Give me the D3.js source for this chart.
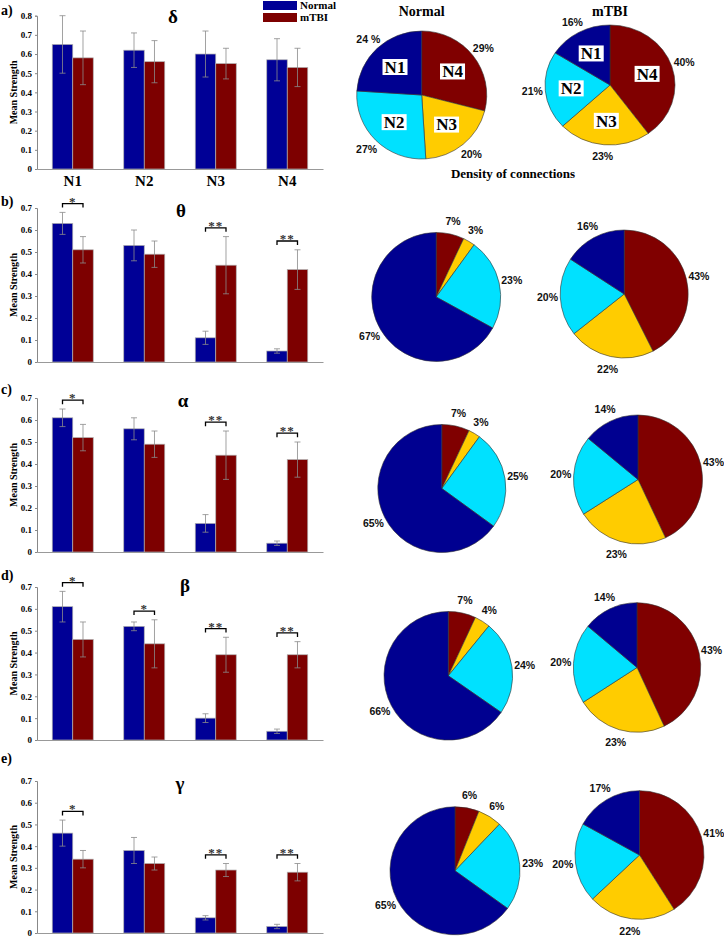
<!DOCTYPE html>
<html><head><meta charset="utf-8">
<script src="https://cdn.jsdelivr.net/npm/d3@7"></script>
<style>body{margin:0;background:#fff}svg{display:block}</style>
</head><body>
<svg id="chart" width="724" height="938"></svg>
<script>
// ---------- DATA ----------
const categories = ["N1", "N2", "N3", "N4"];
const groups = ["Normal", "mTBI"];
const bandNames = ["δ", "θ", "α", "β", "γ"];
const panelLetters = ["a)", "b)", "c)", "d)", "e)"];
const normalMean = [
  [0.65, 0.62, 0.60, 0.57],
  [0.63, 0.53, 0.11, 0.05],
  [0.61, 0.56, 0.13, 0.04],
  [0.61, 0.52, 0.10, 0.04],
  [0.46, 0.38, 0.07, 0.03]
];
const normalErr = [
  [0.15, 0.09, 0.12, 0.11],
  [0.05, 0.07, 0.03, 0.01],
  [0.04, 0.05, 0.04, 0.01],
  [0.07, 0.02, 0.02, 0.01],
  [0.06, 0.06, 0.01, 0.01]
];
const mtbiMean = [
  [0.58, 0.56, 0.55, 0.53],
  [0.51, 0.49, 0.44, 0.42],
  [0.52, 0.49, 0.44, 0.42],
  [0.46, 0.44, 0.39, 0.39],
  [0.34, 0.32, 0.29, 0.28]
];
const mtbiErr = [
  [0.14, 0.11, 0.08, 0.10],
  [0.06, 0.06, 0.13, 0.09],
  [0.06, 0.06, 0.11, 0.08],
  [0.08, 0.11, 0.08, 0.06],
  [0.04, 0.03, 0.03, 0.04]
];
const significance = [
  ["", "", "", ""],
  ["*", "", "**", "**"],
  ["*", "", "**", "**"],
  ["*", "*", "**", "**"],
  ["*", "", "**", "**"]
];
const yTicksDelta = [0, 0.1, 0.2, 0.3, 0.4, 0.5, 0.6, 0.7, 0.8];
const yTicksOther = [0, 0.1, 0.2, 0.3, 0.4, 0.5, 0.6, 0.7];
// pie percentages, order N1, N2, N3, N4
const pieNormal = [
  [24, 27, 20, 29],
  [67, 23, 3, 7],
  [65, 25, 3, 7],
  [66, 24, 4, 7],
  [65, 23, 6, 6]
];
const pieMtbi = [
  [16, 21, 23, 40],
  [16, 20, 22, 43],
  [14, 20, 23, 43],
  [14, 20, 23, 43],
  [17, 20, 22, 41]
];
const pieTitles = ["Normal", "mTBI"];
const pieCaption = "Density of connections";

// ---------- STYLE / LAYOUT ----------
const barColors = {Normal: "#000096", mTBI: "#7d0000"};
const pieColors = {N1: "#000090", N2: "#00e1ff", N3: "#ffcc00", N4: "#800000"};
const SERIF = "'Liberation Serif','Times New Roman',serif";
const SANS = "'Liberation Sans',Arial,sans-serif";

const panels = [
  {top: 15.7, bottom: 169, yMax: 0.8, ticks: yTicksDelta, letterY: 15, titleX: 173, titleY: 23},
  {top: 208, bottom: 362, yMax: 0.7, ticks: yTicksOther, letterY: 206, titleX: 181, titleY: 217},
  {top: 398, bottom: 552, yMax: 0.7, ticks: yTicksOther, letterY: 394, titleX: 183, titleY: 407},
  {top: 587, bottom: 740, yMax: 0.7, ticks: yTicksOther, letterY: 580, titleX: 185, titleY: 592},
  {top: 781, bottom: 933, yMax: 0.7, ticks: yTicksOther, letterY: 763, titleX: 180, titleY: 790}
];
const pieLayout = [
  [{cx: 421.7, cy: 95, rx: 65, ry: 64}, {cx: 610, cy: 85, rx: 65, ry: 60}],
  [{cx: 436.2, cy: 297, rx: 64.5, ry: 64.5}, {cx: 624.2, cy: 294, rx: 64, ry: 64}],
  [{cx: 441.8, cy: 488.5, rx: 64, ry: 64}, {cx: 638, cy: 479.5, rx: 64.5, ry: 64.5}],
  [{cx: 448.3, cy: 675.8, rx: 64.3, ry: 64.3}, {cx: 637, cy: 667.5, rx: 63.7, ry: 64.8}],
  [{cx: 455, cy: 870.8, rx: 65, ry: 64}, {cx: 639.5, cy: 855, rx: 64.5, ry: 64.3}]
];

const svg = d3.select("#chart");
const x0 = d3.scaleBand().domain(categories).range([37, 323]).paddingInner(0.4266).paddingOuter(0.2133);
const x1 = d3.scaleBand().domain(groups).range([0, x0.bandwidth()]);

panels.forEach((p, i) => {
  const g = svg.append("g");
  const y = d3.scaleLinear().domain([0, p.yMax]).range([p.bottom, p.top]);
  const rows = categories.map((c, j) => ({
    cat: c,
    vals: [
      {grp: "Normal", m: normalMean[i][j], e: normalErr[i][j]},
      {grp: "mTBI", m: mtbiMean[i][j], e: mtbiErr[i][j]}
    ],
    sig: significance[i][j]
  }));

  // bars
  const cg = g.selectAll(".cat").data(rows).join("g")
    .attr("transform", d => `translate(${x0(d.cat)},0)`);
  cg.selectAll("rect").data(d => d.vals).join("rect")
    .attr("x", d => x1(d.grp)).attr("width", x1.bandwidth())
    .attr("y", d => y(d.m)).attr("height", d => y(0) - y(d.m))
    .attr("fill", d => barColors[d.grp]).attr("stroke", "#b0b0b0").attr("stroke-width", 0.7);
  // error bars
  const eb = cg.selectAll(".eb").data(d => d.vals).join("g").attr("class", "eb")
    .attr("transform", d => `translate(${x1(d.grp) + x1.bandwidth() / 2},0)`);
  eb.append("line").attr("y1", d => y(d.m - d.e)).attr("y2", d => y(d.m + d.e))
    .attr("stroke", "#8a8a8a").attr("stroke-width", 0.8);
  eb.append("line").attr("x1", -3).attr("x2", 3).attr("y1", d => y(d.m + d.e)).attr("y2", d => y(d.m + d.e))
    .attr("stroke", "#8a8a8a").attr("stroke-width", 0.8);
  eb.append("line").attr("x1", -3).attr("x2", 3).attr("y1", d => y(d.m - d.e)).attr("y2", d => y(d.m - d.e))
    .attr("stroke", "#8a8a8a").attr("stroke-width", 0.8);

  // significance brackets
  const sg = cg.filter(d => d.sig !== "").append("g");
  sg.each(function(d) {
    const top = Math.max(...d.vals.map(v => v.m + v.e)) + 0.04;
    const yy = y(top);
    const xa = x1("Normal") + x1.bandwidth() / 2, xb = x1("mTBI") + x1.bandwidth() / 2;
    const s = d3.select(this);
    s.append("path").attr("d", `M${xa},${yy + 4}V${yy}H${xb}V${yy + 4}`)
      .attr("fill", "none").attr("stroke", "#000").attr("stroke-width", 1.3);
    s.append("text").attr("x", (xa + xb) / 2).attr("y", yy + 2).attr("text-anchor", "middle")
      .attr("font-family", SERIF).attr("font-weight", "bold").attr("font-size", 13)
      .attr("fill", "#333").attr("letter-spacing", 1)
      .text(d.sig);
  });

  // y axis
  const ax = g.append("g").attr("transform", "translate(37,0)")
    .call(d3.axisLeft(y).tickValues(p.ticks).tickSize(2).tickFormat(v => v === 0 ? "0" : d3.format(".1f")(v)));
  ax.select(".domain").attr("stroke", "#888");
  ax.selectAll(".tick line").attr("stroke", "#888");
  ax.selectAll("text").attr("font-family", SERIF).attr("font-weight", "bold").attr("font-size", 9).attr("fill", "#000").attr("x", -5);
  // x axis
  const xa = g.append("g").attr("transform", `translate(0,${p.bottom})`)
    .call(d3.axisBottom(x0).tickSize(0).tickFormat(i === 0 ? (d => d) : () => ""));
  xa.select(".domain").attr("stroke", "#999");
  xa.selectAll("text").attr("font-family", SERIF).attr("font-weight", "bold").attr("font-size", 15).attr("fill", "#000").attr("dy", "0.95em");

  // y label
  g.append("text").attr("transform", `translate(17,${(p.top + p.bottom) / 2}) rotate(-90)`)
    .attr("text-anchor", "middle").attr("font-family", SERIF).attr("font-weight", "bold").attr("font-size", 10)
    .text("Mean Strength");
  // panel letter
  g.append("text").attr("x", 1).attr("y", p.letterY).attr("font-family", SERIF).attr("font-weight", "bold")
    .attr("font-size", 14).text(panelLetters[i]);
  // band title
  g.append("text").attr("x", p.titleX).attr("y", p.titleY).attr("text-anchor", "middle")
    .attr("font-family", SERIF).attr("font-weight", "bold").attr("font-size", 19).text(bandNames[i]);

  // pies
  [pieNormal[i], pieMtbi[i]].forEach((vals, k) => {
    const L = pieLayout[i][k];
    const items = categories.map((c, j) => ({cat: c, v: vals[j],
      label: (i === 0 && k === 0 && c === "N1") ? vals[j] + " %" : vals[j] + "%"})).reverse();
    const arcs = d3.pie().sort(null).value(d => d.v)(items);
    const pg = svg.append("g").attr("transform", `translate(${L.cx},${L.cy})`);
    const arc = d3.arc().innerRadius(0).outerRadius(1);
    pg.append("g").attr("transform", `scale(${L.rx},${L.ry})`)
      .selectAll("path").data(arcs).join("path")
      .attr("d", arc).attr("fill", d => pieColors[d.data.cat])
      .attr("stroke", "#333").attr("stroke-width", 0.6).attr("vector-effect", "non-scaling-stroke");
    const mid = d => (d.startAngle + d.endAngle) / 2;
    pg.selectAll(".pct").data(arcs).join("text")
      .attr("x", d => 1.2 * L.rx * Math.sin(mid(d)))
      .attr("y", d => -1.2 * L.ry * Math.cos(mid(d)))
      .attr("dy", "0.35em").attr("text-anchor", "middle")
      .attr("font-family", SANS).attr("font-weight", "bold").attr("font-size", 10.5).attr("fill", "#111")
      .text(d => d.data.label);
    if (i === 0) {
      const lg = pg.selectAll(".nl").data(arcs).join("g")
        .attr("transform", d => `translate(${0.6 * L.rx * Math.sin(mid(d))},${-0.6 * L.ry * Math.cos(mid(d))})`);
      lg.append("rect").attr("x", -12.5).attr("y", -8).attr("width", 25).attr("height", 16).attr("fill", "#fff");
      lg.append("text").attr("text-anchor", "middle").attr("dy", "0.34em")
        .attr("font-family", SERIF).attr("font-weight", "bold").attr("font-size", 17).text(d => d.data.cat);
      svg.append("text").attr("x", L.cx).attr("y", 16).attr("text-anchor", "middle")
        .attr("font-family", SERIF).attr("font-weight", "bold").attr("font-size", 14).text(pieTitles[k]);
    }
  });
});

// caption
svg.append("text").attr("x", 513).attr("y", 178).attr("text-anchor", "middle")
  .attr("font-family", SERIF).attr("font-weight", "bold").attr("font-size", 13).text(pieCaption);

// legend
const leg = svg.append("g").selectAll("g").data(groups).join("g")
  .attr("transform", (d, i) => `translate(263,${1 + i * 12})`);
leg.append("rect").attr("width", 34).attr("height", 9).attr("fill", d => barColors[d]);
leg.append("text").attr("x", 37).attr("y", 8).attr("font-family", SERIF).attr("font-weight", "bold")
  .attr("font-size", 11).text(d => d);
</script>
</body></html>
